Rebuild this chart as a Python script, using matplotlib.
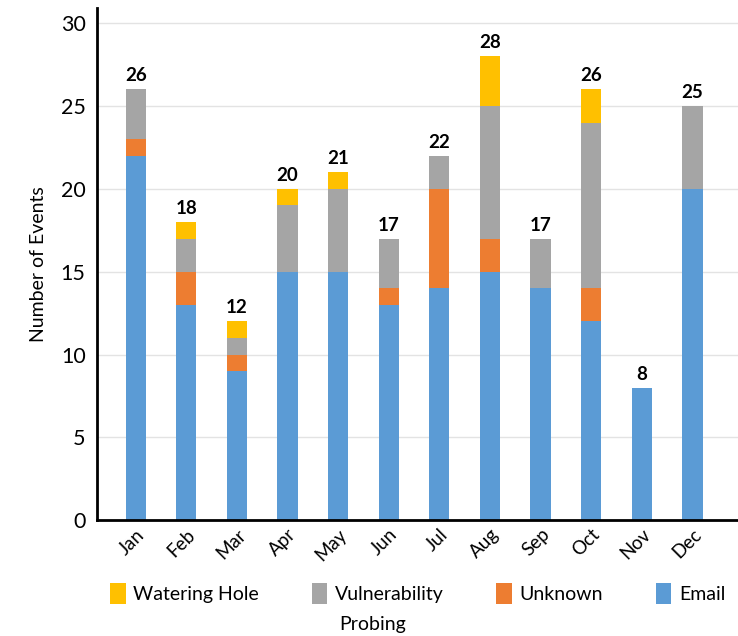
import numpy as np
import matplotlib
matplotlib.use("Agg")
import matplotlib.pyplot as plt

plt.rcParams['font.family'] = ['Lato', 'DejaVu Sans']

months = ['Jan', 'Feb', 'Mar', 'Apr', 'May', 'Jun', 'Jul', 'Aug', 'Sep', 'Oct', 'Nov', 'Dec']
email = [22, 13, 9, 15, 15, 13, 14, 15, 14, 12, 8, 20]
unknown = [1, 2, 1, 0, 0, 1, 6, 2, 0, 2, 0, 0]
vuln = [3, 2, 1, 4, 5, 3, 2, 8, 3, 10, 0, 5]
water = [0, 1, 1, 1, 1, 0, 0, 3, 0, 2, 0, 0]

colors = {'Email': '#5B9BD5', 'Unknown': '#ED7D31',
          'Vulnerability': '#A5A5A5', 'Watering Hole': '#FFC000'}

fig = plt.figure(figsize=(7.38, 6.36), dpi=100)
ax = fig.add_axes([0.131, 0.182, 0.869, 0.805])

x = np.arange(len(months))
w = 0.4
bottom = np.zeros(len(months))
handles = {}
for name, vals in [('Email', email), ('Unknown', unknown),
                   ('Vulnerability', vuln), ('Watering Hole', water)]:
    vals = np.array(vals)
    handles[name] = ax.bar(x, vals, w, bottom=bottom, color=colors[name], zorder=2)
    bottom += vals

for xi, tot in zip(x, bottom):
    ax.text(xi, tot + 0.3, f'{int(tot)}', ha='center', va='bottom',
            fontsize=13.5, fontweight='bold')

ax.set_ylim(0, 30.9)
ax.set_xlim(-0.77, 11.9)
ax.set_yticks(range(0, 31, 5))
ax.tick_params(axis='y', labelsize=15.5, length=0, pad=8)
ax.tick_params(axis='x', labelsize=13.5, length=0, pad=4)
ax.set_xticks(x)
ax.set_xticklabels(months, rotation=45, ha='right', rotation_mode='anchor')
ax.grid(axis='y', color='#E3E3E3', linewidth=1, zorder=0)
ax.set_ylabel('Number of Events', fontsize=14, labelpad=10)
for s in ['top', 'right']:
    ax.spines[s].set_visible(False)
for s in ['left', 'bottom']:
    ax.spines[s].set_linewidth(2)

order = ['Watering Hole', 'Vulnerability', 'Unknown', 'Email']
fig.legend([handles[k] for k in order], order, ncol=4, loc='center',
           bbox_to_anchor=(0.566, 0.067), frameon=False, fontsize=14,
           handlelength=0.8, handleheight=1.3, columnspacing=2.7, handletextpad=0.4)
fig.text(0.505, 0.018, 'Probing', ha='center', va='center', fontsize=14)

fig.savefig('out.png', dpi=100)
